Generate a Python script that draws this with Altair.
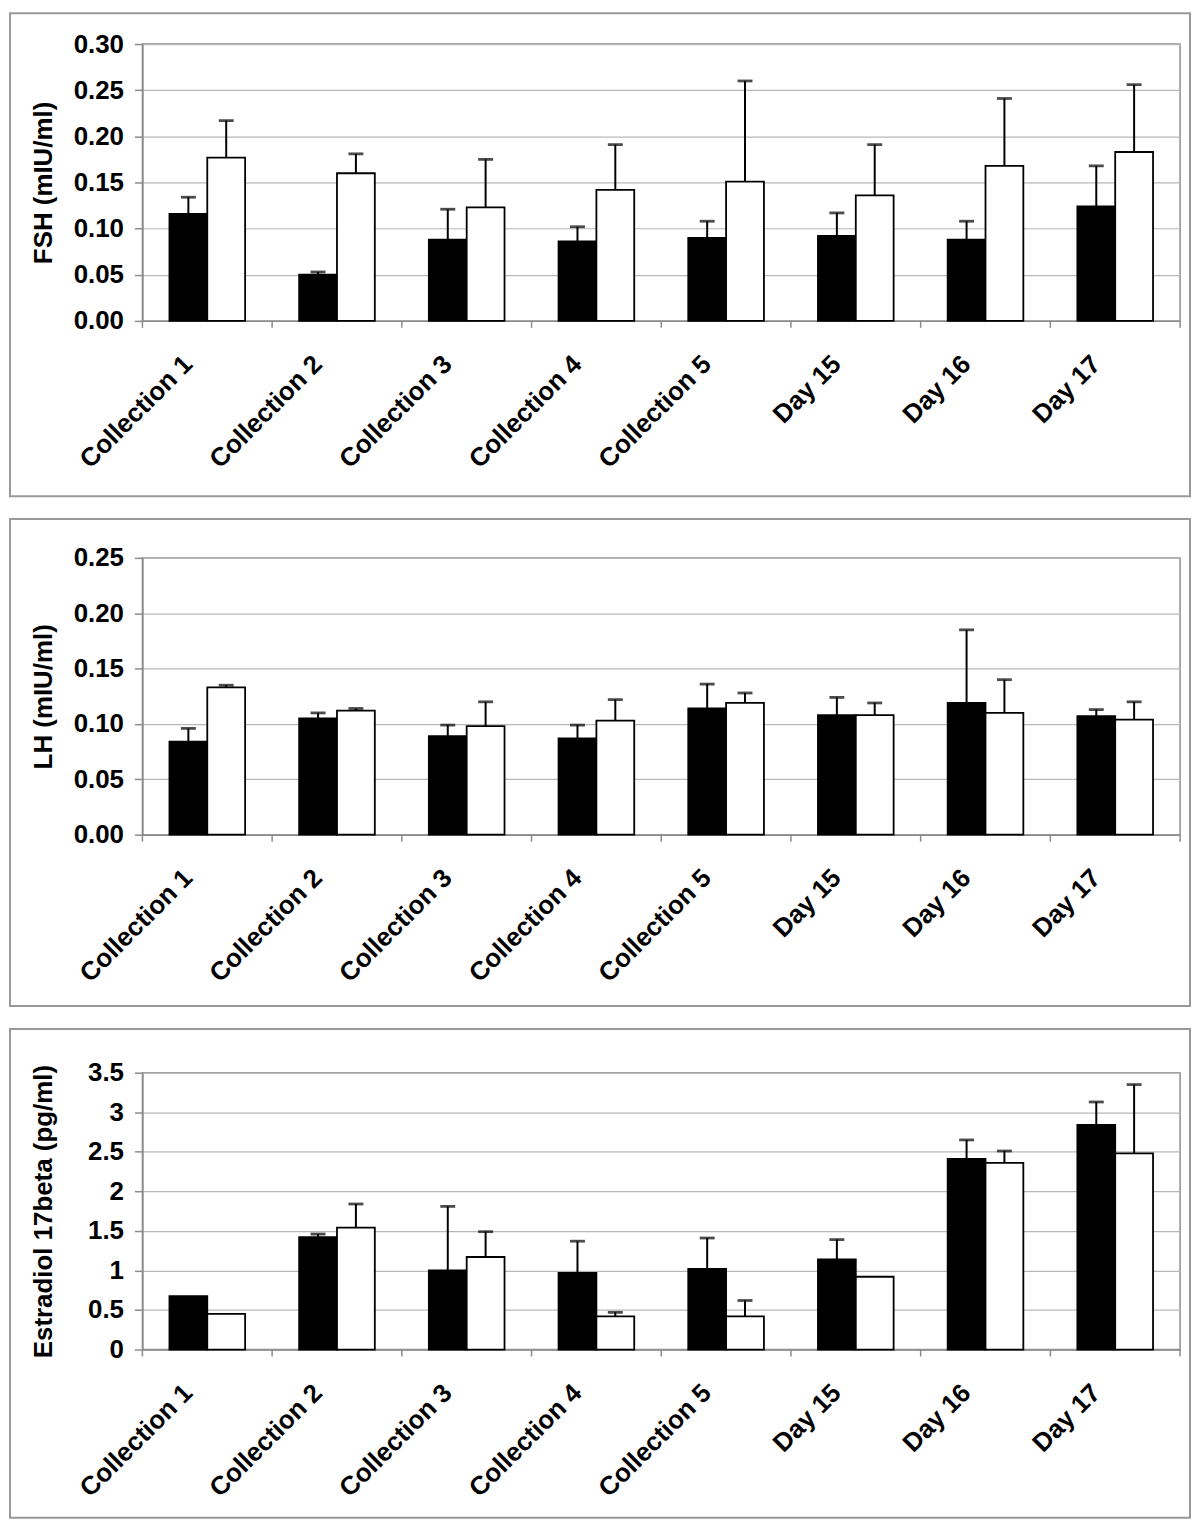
import altair as alt
import pandas as pd

categories = ["Collection 1", "Collection 2", "Collection 3", "Collection 4",
              "Collection 5", "Day 15", "Day 16", "Day 17"]

# FSH (mIU/ml)
fsh_black = [0.116, 0.050, 0.088, 0.086, 0.090, 0.092, 0.088, 0.124]
fsh_black_err = [0.018, 0.003, 0.033, 0.016, 0.018, 0.025, 0.020, 0.044]
fsh_white = [0.177, 0.160, 0.123, 0.142, 0.151, 0.136, 0.168, 0.183]
fsh_white_err = [0.040, 0.021, 0.052, 0.049, 0.109, 0.055, 0.073, 0.073]

# LH (mIU/ml)
lh_black = [0.084, 0.105, 0.089, 0.087, 0.114, 0.108, 0.119, 0.107]
lh_black_err = [0.012, 0.005, 0.010, 0.012, 0.022, 0.016, 0.066, 0.006]
lh_white = [0.133, 0.112, 0.098, 0.103, 0.119, 0.108, 0.110, 0.104]
lh_white_err = [0.002, 0.002, 0.022, 0.019, 0.009, 0.011, 0.030, 0.016]

# Estradiol 17beta (pg/ml)
e2_black = [0.675, 1.42, 1.00, 0.97, 1.02, 1.14, 2.41, 2.84]
e2_black_err = [None, 0.04, 0.81, 0.40, 0.39, 0.25, 0.24, 0.29]
e2_white = [0.45, 1.54, 1.17, 0.42, 0.42, 0.92, 2.36, 2.48]
e2_white_err = [None, 0.30, 0.32, 0.05, 0.20, None, 0.15, 0.87]

fsh_ticks = [0.0, 0.05, 0.10, 0.15, 0.20, 0.25, 0.30]
lh_ticks = [0.0, 0.05, 0.10, 0.15, 0.20, 0.25]
e2_ticks = [0.0, 0.5, 1.0, 1.5, 2.0, 2.5, 3.0, 3.5]

W = 1042
H = 278
GRAY = "#8c8c8c"
GRID = "#b8b8b8"
FONT = "Liberation Sans"
LEFT = 133
RIGHT = 10


def panel(vb, eb, vw, ew, title, ticks, fmt, top_off, bottom_ext):
    rows = []
    for i, c in enumerate(categories):
        for g, v, e in (("A", vb[i], eb[i]), ("B", vw[i], ew[i])):
            rows.append({"cat": c, "grp": g, "value": v,
                         "upper": (v + e) if e is not None else None})
    df = pd.DataFrame(rows)
    err_df = df.dropna(subset=["upper"]).copy()

    xaxis = alt.Axis(title=None, grid=False, ticks=False, tickSize=0,
                     labelAngle=-45, labelAlign="right", labelBaseline="middle",
                     labelPadding=39, labelOffset=-19, labelFontSize=26,
                     domainColor=GRAY, domainWidth=1.5)
    xscale = alt.Scale(paddingInner=0, paddingOuter=0)

    def xenc(**kw):
        return alt.X("cat:N", sort=categories, scale=xscale, axis=xaxis, **kw)

    xoff = alt.XOffset("grp:N", sort=["A", "B"],
                       scale=alt.Scale(paddingInner=0, paddingOuter=0.714))
    yscale = alt.Scale(domain=[ticks[0], ticks[-1]], nice=False)
    yaxis = alt.Axis(title=title, values=ticks, format=fmt, grid=True,
                     gridColor=GRID, gridWidth=1.2, tickSize=8, tickColor=GRAY,
                     tickWidth=1.5, labelPadding=11, labelFontSize=26,
                     domainColor=GRAY, domainWidth=1.5, titleX=-86,
                     titleY=H / 2, titleFontSize=26)

    box = alt.Chart(pd.DataFrame({"a": [0]})).mark_rect(
        fillOpacity=0, stroke="#999999", strokeWidth=2
    ).encode(x=alt.value(-LEFT), x2=alt.value(W + RIGHT),
             y=alt.value(-top_off), y2=alt.value(H + bottom_ext))

    bars = alt.Chart(df).mark_bar(stroke="black", strokeWidth=1.8).encode(
        x=xenc(), xOffset=xoff,
        y=alt.Y("value:Q", scale=yscale, axis=yaxis),
        fill=alt.Fill("grp:N", scale=alt.Scale(domain=["A", "B"], range=["black", "white"]),
                      legend=None),
    )
    rules = alt.Chart(err_df).mark_rule(color="black", strokeWidth=2).encode(
        x=xenc(), xOffset=xoff,
        y=alt.Y("value:Q", scale=yscale, axis=yaxis), y2="upper:Q",
    )
    caps = alt.Chart(err_df).mark_tick(color="black", thickness=2.8, size=15,
                                       orient="horizontal").encode(
        x=xenc(), xOffset=xoff,
        y=alt.Y("upper:Q", scale=yscale, axis=yaxis),
    )
    xticks = alt.Chart(pd.DataFrame({"cat": categories})).mark_rule(
        color=GRAY, strokeWidth=1.5
    ).encode(x=xenc(bandPosition=0), y=alt.value(H), y2=alt.value(H + 7))
    endtick = alt.Chart(pd.DataFrame({"a": [0]})).mark_rule(
        color=GRAY, strokeWidth=1.5
    ).encode(x=alt.value(W), y=alt.value(H), y2=alt.value(H + 7))

    return alt.layer(box, bars, rules, caps, xticks, endtick).properties(
        width=W, height=H)


p1 = panel(fsh_black, fsh_black_err, fsh_white, fsh_white_err,
           "FSH (mIU/ml)", fsh_ticks, ".2f", 31, 176)
p2 = panel(lh_black, lh_black_err, lh_white, lh_white_err,
           "LH (mIU/ml)", lh_ticks, ".2f", 39, 172)
p3 = panel(e2_black, e2_black_err, e2_white, e2_white_err,
           "Estradiol  17beta (pg/ml)", e2_ticks, ".1~f", 44, 169)

chart = alt.vconcat(p1, p2, p3, spacing=19).properties(
    padding=0, background="white"
).configure_view(
    stroke=GRAY, strokeWidth=1.5
).configure_axis(
    labelFont=FONT, labelFontWeight="bold", labelColor="black",
    titleFont=FONT, titleFontWeight="bold", titleColor="black",
)

chart.save("out.html", embed_options={"renderer": "svg", "actions": False})
